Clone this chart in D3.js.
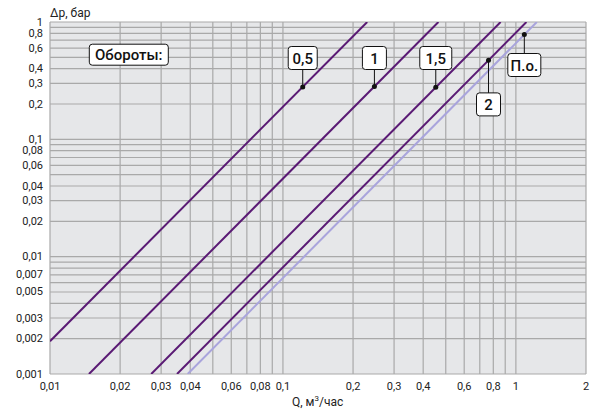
<!DOCTYPE html>
<html>
<head>
<meta charset="utf-8">
<script src="https://cdn.jsdelivr.net/npm/d3@7"></script>
<style>
  body { margin: 0; background: #fff; font-family: Roboto, "Noto Sans", sans-serif; }
  .tick-label { font-size: 11px; fill: #222; }
  .axis-title { font-size: 12px; fill: #222; }
  .callout text { font-size: 15px; font-weight: 500; fill: #111; }
</style>
</head>
<body>
<div id="wrapper"></div>
<script>
// 1. data
const seriesNames = ["0,5", "1", "1,5", "2", "П.о."];
// each line: start [Q, Δp] and end [Q, Δp]
const lineStarts = [[0.01, 0.0019], [0.0147, 0.001], [0.0272, 0.001], [0.0351, 0.001], [0.039, 0.001]];
const lineEnds = [[0.23, 1], [0.465, 1], [0.86, 1], [1.11, 1], [1.23, 1]];
// point on each line where the callout is pinned
const markerQ = [0.1216, 0.247, 0.453, 0.763, 1.087];
const xTickValues = [0.01, 0.02, 0.03, 0.04, 0.06, 0.08, 0.1, 0.2, 0.3, 0.4, 0.6, 0.8, 1, 2];
const yTickValues = [1, 0.8, 0.6, 0.4, 0.3, 0.2, 0.1, 0.08, 0.06, 0.04, 0.03, 0.02, 0.01, 0.007, 0.005, 0.003, 0.002, 0.001];
const xGridValues = [0.01, 0.02, 0.03, 0.04, 0.05, 0.06, 0.07, 0.08, 0.09, 0.1, 0.2, 0.3, 0.4, 0.5, 0.6, 0.7, 0.8, 0.9, 1, 2];
const yGridValues = [0.001, 0.002, 0.003, 0.004, 0.005, 0.006, 0.007, 0.008, 0.009,
  0.01, 0.02, 0.03, 0.04, 0.05, 0.06, 0.07, 0.08, 0.09,
  0.1, 0.2, 0.3, 0.4, 0.5, 0.6, 0.7, 0.8, 0.9, 1];

// 2. dimensions
const width = 598, height = 414;
const margin = { top: 22, right: 12, bottom: 40, left: 50 };

const fmt = v => String(v).replace(".", ",");

// 3. draw canvas
const svg = d3.select("#wrapper").append("svg")
  .attr("width", width)
  .attr("height", height);

// 4. scales
const x = d3.scaleLog().domain([0.01, 2]).range([margin.left, width - margin.right]);
const y = d3.scaleLog().domain([0.001, 1]).range([height - margin.bottom, margin.top]);

// 5. background + grid
svg.append("rect")
  .attr("x", x(0.01)).attr("y", y(1))
  .attr("width", x(2) - x(0.01)).attr("height", y(0.001) - y(1))
  .attr("fill", "#e6e7e9");

svg.append("g").selectAll("line").data(xGridValues).join("line")
  .attr("x1", d => x(d)).attr("x2", d => x(d))
  .attr("y1", y(1)).attr("y2", y(0.001))
  .attr("stroke", "#a9a9a9").attr("stroke-width", 1.2);

svg.append("g").selectAll("line").data(yGridValues).join("line")
  .attr("x1", x(0.01)).attr("x2", x(2))
  .attr("y1", d => y(d)).attr("y2", d => y(d))
  .attr("stroke", "#a9a9a9").attr("stroke-width", 1.2);

// tick labels
svg.append("g").selectAll("text").data(xTickValues).join("text")
  .attr("class", "tick-label")
  .attr("x", d => x(d)).attr("y", y(0.001) + 16)
  .attr("text-anchor", "middle")
  .text(fmt);

svg.append("g").selectAll("text").data(yTickValues).join("text")
  .attr("class", "tick-label")
  .attr("x", x(0.01) - 7).attr("y", d => y(d) + 3.5)
  .attr("text-anchor", "end")
  .text(fmt);

svg.append("text").attr("class", "axis-title")
  .attr("x", x(0.01)).attr("y", 17)
  .text("Δp, бар");

const qTitle = svg.append("text").attr("class", "axis-title")
  .attr("x", 292).attr("y", 406);
qTitle.append("tspan").text("Q, м");
qTitle.append("tspan").attr("font-size", 8).attr("dy", -5).text("3");
qTitle.append("tspan").attr("dy", 5).text("/час");

// 6. lines
const lineColors = ["#5a1a74", "#5a1a74", "#5a1a74", "#5a1a74", "#a9a4dc"];
const line = d3.line().x(d => x(d[0])).y(d => y(d[1]));

svg.append("defs").append("clipPath").attr("id", "plot-clip")
  .append("rect")
  .attr("x", x(0.01)).attr("y", y(1))
  .attr("width", x(2) - x(0.01)).attr("height", y(0.001) - y(1));

svg.append("g").attr("clip-path", "url(#plot-clip)")
  .selectAll("path").data(seriesNames).join("path")
  .attr("d", (d, i) => line([lineStarts[i], lineEnds[i]]))
  .attr("fill", "none")
  .attr("stroke", (d, i) => lineColors[i])
  .attr("stroke-width", 2);

// Δp on a line for a given Q (log-linear between its two read points)
function pOnLine(i, q) {
  const [q0, p0] = lineStarts[i], [q1, p1] = lineEnds[i];
  const t = Math.log(q / q0) / Math.log(q1 / q0);
  return Math.exp(Math.log(p0) + t * Math.log(p1 / p0));
}

// 7. callouts
function callout(label, cx, cy, w, h, fontSize) {
  const g = svg.append("g").attr("class", "callout");
  g.append("rect")
    .attr("x", cx - w / 2).attr("y", cy - h / 2)
    .attr("width", w).attr("height", h)
    .attr("rx", 3)
    .attr("fill", "#fff").attr("stroke", "#111").attr("stroke-width", 1);
  g.append("text")
    .attr("x", cx).attr("y", cy + 5.5)
    .attr("text-anchor", "middle")
    .style("font-size", fontSize + "px")
    .text(label);
}

callout("Обороты:", 128.8, 54.7, 79, 21, 15);

// box centre y for each series; above the point for first three, below for "2" and П.о.
const boxCenters = [[302, 58], [374, 58], [436, 58], [488.3, 104.4], [525, 65]];
const boxWidths = [29, 24, 32, 24, 33];

seriesNames.forEach((name, i) => {
  const px = x(markerQ[i]);
  const py = y(pOnLine(i, markerQ[i]));
  const by = boxCenters[i][1];
  const edgeY = by > py ? by - 11.5 : by + 11.5;
  svg.append("line")
    .attr("x1", px).attr("x2", px)
    .attr("y1", py).attr("y2", edgeY)
    .attr("stroke", "#111").attr("stroke-width", 1);
  svg.append("circle")
    .attr("cx", px).attr("cy", py).attr("r", 2.5)
    .attr("fill", "#111");
  callout(name, px, by, boxWidths[i], 23, 15);
});
</script>
</body>
</html>
